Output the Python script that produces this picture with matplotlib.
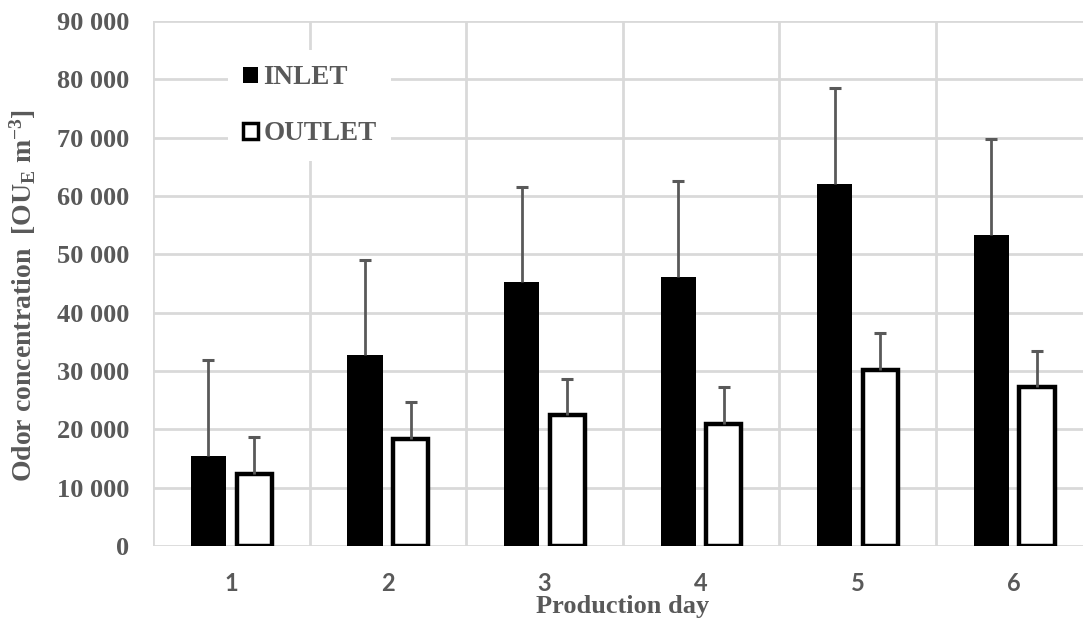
import numpy as np
from matplotlib import pyplot as plt
from matplotlib.ticker import FuncFormatter, MultipleLocator

plt.rcParams['font.family'] = 'Liberation Serif'
plt.rcParams['mathtext.fontset'] = 'custom'
plt.rcParams['mathtext.rm'] = 'Liberation Serif:bold'
plt.rcParams['mathtext.bf'] = 'Liberation Serif:bold'
plt.rcParams['mathtext.it'] = 'Liberation Serif:bold'

dias = [1, 2, 3, 4, 5, 6]
inlet = [15500, 32800, 45300, 46100, 62100, 53300]
inlet_sup = [31900, 49100, 61600, 62500, 78500, 69700]
outlet = [12400, 18300, 22400, 20900, 30200, 27200]
outlet_sup = [18700, 24600, 28600, 27200, 36500, 33400]

GRIS = '#595959'
REJILLA = '#d9d9d9'

fig = plt.figure(figsize=(10.83, 6.21), dpi=100)
ax = fig.add_axes([0.1413, 0.1208, 0.8674, 0.8454])

x = np.array(dias)
ancho = 0.225
desp = 0.146
err_in = np.array(inlet_sup) - np.array(inlet)
err_out = np.array(outlet_sup) - np.array(outlet)

ax.bar(x - desp, inlet, ancho, color='black', label='INLET', zorder=3)
ax.bar(x + desp, outlet, ancho, color='white', edgecolor='black', linewidth=3.2,
       label='OUTLET', zorder=3)
for pos, alto, err in [(x - desp, inlet, err_in), (x + desp, outlet, err_out)]:
    _, caps, _ = ax.errorbar(pos, alto, yerr=[np.zeros(6), err], fmt='none', ecolor=GRIS,
                             elinewidth=2, capsize=4.5, capthick=2.2, zorder=4)
    caps[0].set_visible(False)  # sin tope abajo

ax.set_xlim(0.5, 6.5)
ax.set_ylim(0, 90000)
ax.yaxis.set_major_locator(MultipleLocator(10000))
ax.yaxis.set_major_formatter(FuncFormatter(lambda v, p: f"{int(v):,}".replace(',', ' ')))
ax.set_xticks(dias)
ax.set_xticks(np.arange(0.5, 7, 1), minor=True)
ax.grid(axis='y', which='major', color=REJILLA, linewidth=2, zorder=0)
ax.grid(axis='x', which='minor', color=REJILLA, linewidth=2, zorder=0)
ax.tick_params(which='both', length=0)
ax.tick_params(axis='y', pad=17, labelsize=19, labelcolor=GRIS)
ax.tick_params(axis='x', pad=19, labelsize=17, labelcolor=GRIS)
for t in ax.get_yticklabels():
    t.set_fontweight('bold')
for t in ax.get_xticklabels():
    t.set_fontfamily('Lato')
    t.set_fontweight('bold')
for s in ax.spines.values():
    s.set_visible(False)

ax.set_xlabel('Production day', fontsize=19, fontweight='bold', color=GRIS, labelpad=0)
ax.set_ylabel(r'Odor concentration  [OU$_{E}$ m$^{-3}$]', fontsize=20,
              fontweight='bold', color=GRIS)
ax.yaxis.set_label_coords(-0.122, 0.478)

leg = ax.legend(loc='upper left', bbox_to_anchor=(0.0798, 0.944), frameon=True,
                facecolor='white', edgecolor='none', framealpha=1, fancybox=False,
                handlelength=0.55, handleheight=0.55, handletextpad=0.2,
                labelspacing=1.15, borderpad=0.55, borderaxespad=0,
                prop={'family': 'Liberation Serif', 'weight': 'bold', 'size': 19.5})
for t in leg.get_texts():
    t.set_color(GRIS)
for h in leg.legend_handles:
    h.set_linewidth(2.5)
leg.set_zorder(5)

fig.savefig('out.png', dpi=100)
